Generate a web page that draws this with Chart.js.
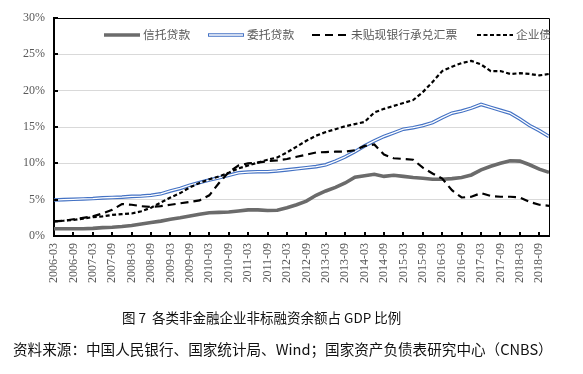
<!DOCTYPE html>
<html>
<head>
<meta charset="utf-8">
<script src="https://cdn.jsdelivr.net/npm/chart.js@4/dist/chart.umd.min.js"></script>
<style>
html,body{margin:0;padding:0;background:#fff;}
#wrap{position:relative;width:583px;height:374px;overflow:hidden;}
#c{position:absolute;left:0;top:0;}
#title{position:absolute;left:122px;top:307px;white-space:nowrap;font:13.5px "Noto Sans CJK SC","Noto Sans",sans-serif;color:#111;}
#src{position:absolute;left:13px;top:338px;white-space:nowrap;font:14.6px "Noto Sans CJK SC","Noto Sans",sans-serif;color:#111;}
</style>
</head>
<body>
<div id="wrap">
<canvas id="c" width="583" height="374"></canvas>
<div id="title">图 7&nbsp; 各类非金融企业非标融资余额占 GDP 比例</div>
<div id="src">资料来源：中国人民银行、国家统计局、Wind；国家资产负债表研究中心（CNBS）</div>
</div>
<script>
// Quarterly categories 2006-03 .. 2018-12
const categories = [];
for (let y = 2006; y <= 2018; y++) { ['03','06','09','12'].forEach(m => categories.push(y + '-' + m)); }

const seriesNames = ['信托贷款', '委托贷款', '未贴现银行承兑汇票', '企业债'];

const trustLoans = [1.0,1.0,1.0,1.0,1.05,1.15,1.2,1.3,1.45,1.65,1.85,2.05,2.3,2.5,2.75,3.0,3.2,3.25,3.3,3.45,3.6,3.6,3.5,3.55,3.9,4.3,4.8,5.6,6.2,6.7,7.3,8.1,8.3,8.5,8.2,8.35,8.2,8.05,7.95,7.8,7.8,7.9,8.05,8.4,9.1,9.6,10.0,10.35,10.3,9.8,9.2,8.75];

const entrustedLoans = [4.95,5.0,5.05,5.1,5.15,5.25,5.3,5.35,5.45,5.5,5.6,5.8,6.2,6.55,7.0,7.35,7.7,8.0,8.35,8.7,8.8,8.85,8.85,8.95,9.1,9.25,9.4,9.55,9.8,10.3,10.9,11.6,12.4,13.1,13.7,14.2,14.7,14.9,15.2,15.6,16.3,16.9,17.2,17.6,18.1,17.7,17.3,16.9,16.1,15.2,14.5,13.7];

const undiscountedBills = [2.0,2.1,2.3,2.5,2.7,3.1,3.6,4.4,4.3,4.1,4.0,4.1,4.3,4.5,4.7,4.9,5.6,7.3,8.8,9.7,10.0,10.1,10.3,10.4,10.6,10.9,11.2,11.5,11.55,11.6,11.6,11.8,12.4,12.6,11.2,10.7,10.6,10.5,9.4,8.6,7.9,6.3,5.3,5.4,5.9,5.5,5.4,5.4,5.3,4.7,4.3,4.15];

const corporateBonds = [2.0,2.1,2.2,2.4,2.6,2.7,2.9,3.0,3.1,3.4,3.9,4.6,5.3,5.9,6.7,7.3,7.8,8.2,8.7,9.3,9.7,10.1,10.5,10.8,11.5,12.3,13.1,13.8,14.3,14.7,15.1,15.4,15.7,17.0,17.5,17.9,18.3,18.7,19.8,21.2,22.7,23.3,23.8,24.1,23.6,22.7,22.7,22.3,22.4,22.3,22.1,22.3];

const yTicks = [0, 5, 10, 15, 20, 25, 30];

const GRAY = '#6b6b6b', BLUE = '#4472c4', BLACK = '#000000';
const LABEL_COLOR = '#595959';

const datasets = [
  {label: seriesNames[0], data: trustLoans, borderColor: GRAY, borderWidth: 3.6, order: 3},
  {label: seriesNames[1], data: entrustedLoans, borderColor: BLUE, borderWidth: 3.6, order: 2, doubleLine: true},
  {label: seriesNames[2], data: undiscountedBills, borderColor: BLACK, borderWidth: 2.2, borderDash: [8, 5], order: 1},
  {label: seriesNames[3], data: corporateBonds, borderColor: BLACK, borderWidth: 2.2, borderDash: [4, 2.5], order: 0}
].map(d => Object.assign({pointRadius: 0, pointHoverRadius: 0, tension: 0, fill: false, backgroundColor: d.borderColor}, d));

// white inner stroke for the double blue line
const doubleLinePlugin = {
  id: 'doubleLine',
  afterDatasetDraw(chart, args) {
    const ds = chart.data.datasets[args.index];
    if (!ds.doubleLine) return;
    const pts = args.meta.data;
    const ctx = chart.ctx, a = chart.chartArea;
    ctx.save();
    ctx.beginPath(); ctx.rect(a.left, a.top, a.right - a.left, a.bottom - a.top); ctx.clip();
    ctx.beginPath();
    pts.forEach((p, i) => i ? ctx.lineTo(p.x, p.y) : ctx.moveTo(p.x, p.y));
    ctx.strokeStyle = '#ffffff'; ctx.lineWidth = 1.3; ctx.lineJoin = 'round';
    ctx.stroke();
    ctx.restore();
  }
};

// frame, inward ticks and in-plot legend
const framePlugin = {
  id: 'frame',
  afterDraw(chart) {
    const ctx = chart.ctx, a = chart.chartArea;
    const xs = chart.scales.x, ys = chart.scales.y;
    ctx.save();
    ctx.strokeStyle = '#000'; ctx.lineWidth = 1;
    ctx.beginPath();
    ctx.moveTo(a.left, a.top + 0.5); ctx.lineTo(a.right + 0.5, a.top + 0.5);
    ctx.lineTo(a.right + 0.5, a.bottom);
    ctx.stroke();
    // inward ticks
    ctx.lineWidth = 2;
    ctx.beginPath();
    yTicks.forEach(v => { if (v === 0) return; const y = Math.round(ys.getPixelForValue(v)); ctx.moveTo(a.left, y); ctx.lineTo(a.left + 4, y); });
    categories.forEach((c, i) => { if (i % 2 || i === 0) return; const x = Math.round(xs.getPixelForValue(i)); ctx.moveTo(x, a.bottom); ctx.lineTo(x, a.bottom - 4); });
    ctx.stroke();
    // legend
    ctx.beginPath(); ctx.rect(a.left, a.top, a.right - a.left + 1, a.bottom - a.top); ctx.clip();
    const ly = a.top + 17;
    const starts = [104, 208, 312, 477];
    ctx.font = '11.8px "Noto Sans CJK SC", sans-serif';
    ctx.textBaseline = 'middle';
    chart.data.datasets.forEach((ds, i) => {
      const x0 = starts[i];
      ctx.setLineDash(ds.borderDash || []);
      ctx.strokeStyle = ds.borderColor; ctx.lineWidth = ds.borderWidth;
      ctx.beginPath(); ctx.moveTo(x0, ly); ctx.lineTo(x0 + 36, ly); ctx.stroke();
      if (ds.doubleLine) {
        ctx.strokeStyle = '#fff'; ctx.lineWidth = 1.3;
        ctx.beginPath(); ctx.moveTo(x0 + 1, ly); ctx.lineTo(x0 + 35, ly); ctx.stroke();
      }
      ctx.setLineDash([]);
      ctx.fillStyle = LABEL_COLOR;
      ctx.fillText(ds.label, x0 + 39, ly);
    });
    ctx.restore();
  }
};

new Chart(document.getElementById('c'), {
  type: 'line',
  data: {labels: categories, datasets},
  options: {
    responsive: false,
    animation: false,
    devicePixelRatio: 1,
    layout: {padding: {top: 18, right: 34, bottom: 0, left: 0}},
    plugins: {legend: {display: false}, tooltip: {enabled: false}, title: {display: false}},
    scales: {
      x: {
        type: 'category',
        offset: false,
        grid: {display: false, drawTicks: false},
        border: {display: true, color: '#000', width: 2},
        ticks: {
          autoSkip: false, minRotation: 90, maxRotation: 90, padding: 7,
          color: LABEL_COLOR, font: {family: '"Liberation Serif", serif', size: 12},
          callback: function (v, i) { return i % 2 === 0 ? this.getLabelForValue(v) : ''; }
        },
        afterFit(s) { s.height = 138; }
      },
      y: {
        min: 0, max: 30,
        afterBuildTicks(s) { s.ticks = yTicks.map(v => ({value: v})); },
        grid: {color: '#d9d9d9', lineWidth: 1, drawTicks: false},
        border: {display: true, color: '#000', width: 2},
        ticks: {padding: 9, color: LABEL_COLOR, font: {family: '"Liberation Serif", serif', size: 12}, callback: v => v + '%'},
        afterFit(s) { s.width = 54; }
      }
    }
  },
  plugins: [doubleLinePlugin, framePlugin]
});
</script>
</body>
</html>
